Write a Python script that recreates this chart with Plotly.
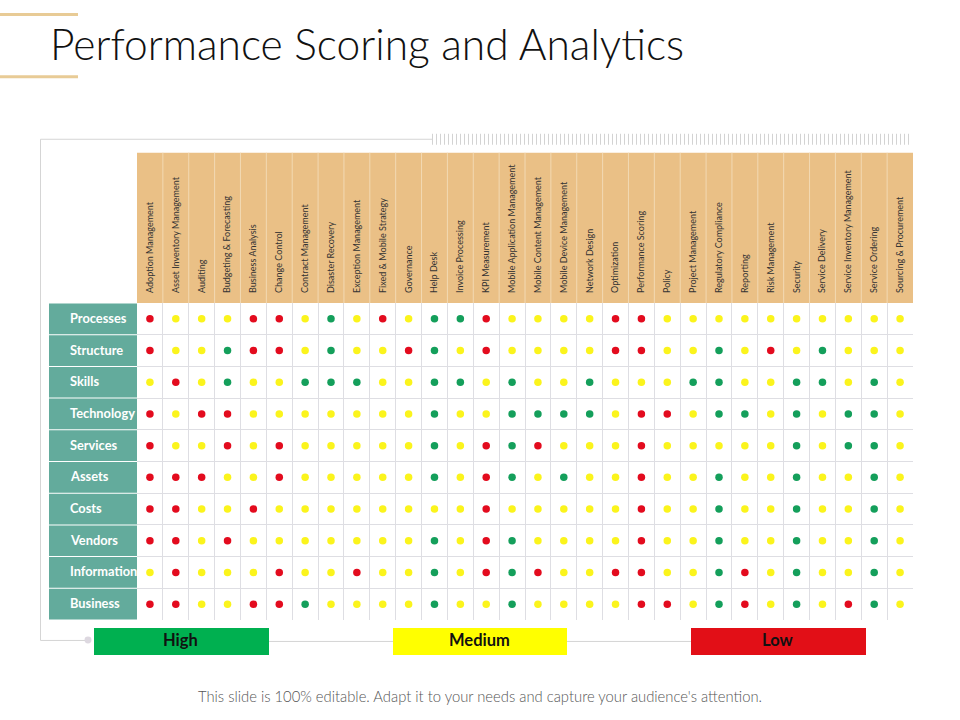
import plotly.graph_objects as go

# ---------- data ----------
CATEGORIES = ["Adoption Management", "Asset Inventory Management", "Auditing", "Budgeting & Forecasting",
              "Business Analysis", "Change Control", "Contract Management", "Disaster Recovery",
              "Exception Management", "Fixed & Mobile Strategy", "Governance", "Help Desk",
              "Invoice Processing", "KPI Measurement", "Mobile Application Management",
              "Mobile Content Management", "Mobile Device Management", "Network Design", "Optimization",
              "Performance Scoring", "Policy", "Project Management", "Regulatory Compliance", "Reporting",
              "Risk Management", "Security", "Service Delivery", "Service Inventory Management",
              "Service Ordering", "Sourcing & Procurement"]
ROW_NAMES = ["Processes", "Structure", "Skills", "Technology", "Services", "Assets", "Costs", "Vendors",
             "Information", "Business"]
# one letter per category: H = High, M = Medium, L = Low
processes   = "LMMMLLMH" "MLMHHLMMMML" "LMMMMMMMMMM"
structure   = "LMMHLLMH" "MMLHMLMMMML" "LMMHMLMHMMM"
skills      = "MLMHMMHH" "HMMHHMHMMHM" "MMHHMMHHMHM"
technology  = "LMLLMMMM" "MMMHMMHHHHM" "LLMHHMHMHHM"
services    = "LMMLMLMM" "MMMHMLHLMMM" "LMMMMMHMHHM"
assets      = "LLLMMLMM" "MMMHMLHMHMM" "LMMHMMHMMHM"
costs       = "LLMMLMMM" "MMMMMLMMMMM" "LMMHMMHMMHM"
vendors     = "LLMLMMMM" "MMMHMLHMMMM" "LMMHMMHMMHM"
information = "MLMMMLMM" "LMMHMLHLMML" "LMMHLMHMMHM"
business    = "LLMMLLHM" "MMMHMMHMMMM" "LLMHLMHMLHM"
SCORES = [processes, structure, skills, technology, services, assets, costs, vendors, information, business]

LEVELS = ["High", "Medium", "Low"]
LEVEL_KEYS = ["H", "M", "L"]
DOT_COLORS = ["#149F5B", "#FBF41C", "#E30B1E"]
BAR_COLORS = ["#00B050", "#FFFF00", "#E20F17"]

TITLE = "Performance Scoring and Analytics"
FOOTER = "This slide is 100% editable. Adapt it to your needs and capture your audience's attention."

# ---------- layout geometry (pixels) ----------
W, H = 960, 720
L, R, T, B = 137, 913, 302.5, 620
FONT = "Lato"


def px(x):
    return (x - L) / (R - L)


def py(y):
    return (B - y) / (B - T)


fig = go.Figure()
for level, key, color in zip(LEVELS, LEVEL_KEYS, DOT_COLORS):
    xs, ys = [], []
    for row, scores in zip(ROW_NAMES, SCORES):
        for cat, s in zip(CATEGORIES, scores):
            if s == key:
                xs.append(cat)
                ys.append(row)
    fig.add_trace(go.Scatter(x=xs, y=ys, mode="markers", name=level, showlegend=False,
                             marker=dict(color=color, size=7.5, line=dict(width=0))))

shapes = []


def rect(x0, y0, x1, y1, fill, layer="below"):
    shapes.append(dict(type="rect", xref="paper", yref="paper", x0=px(x0), x1=px(x1), y0=py(y0), y1=py(y1),
                       fillcolor=fill, line=dict(width=0), layer=layer))


def line(x0, y0, x1, y1, color, width=1):
    shapes.append(dict(type="line", xref="paper", yref="paper", x0=px(x0), x1=px(x1), y0=py(y0), y1=py(y1),
                       line=dict(color=color, width=width), layer="below"))


# accent bars near the title
line(0, 13.5, 78, 13.5, "#E8CB96", 3)
line(0, 76, 78, 76, "#E8CB96", 3)

# outer frame
line(40.5, 138.5, 432, 138.5, "#D5D5D5", 1)
line(40.5, 138.5, 40.5, 640.5, "#D5D5D5", 1)
line(40.5, 640.5, 88, 640.5, "#D5D5D5", 1)
line(269, 641.5, 691, 641.5, "#D5D5D5", 1)
for i in range(120):
    xh = 432.5 + i * 4.0
    line(xh, 133, xh, 144, "#D3D3D3", 1)
shapes.append(dict(type="circle", xref="paper", yref="paper", x0=px(84.5), x1=px(91.5), y0=py(636.5), y1=py(643.5),
                   fillcolor="#DDD8E0", line=dict(width=0), layer="below"))

# header band and its dividers
rect(L, 152, R, T, "#EAC086")
for i in range(1, len(CATEGORIES)):
    xd = L + i * (R - L) / len(CATEGORIES)
    line(xd, 152, xd, T, "#F2D9B3", 1)

# row label cells
rowh = (B - T) / len(ROW_NAMES)
annotations = []
for i, name in enumerate(ROW_NAMES):
    rect(49, T + i * rowh + 0.5, L, T + (i + 1) * rowh - 0.5, "#63AB9C")
    annotations.append(dict(text=name, xref="paper", yref="y", x=px(67.5), y=name, xanchor="left", yanchor="middle",
                            yshift=1, showarrow=False,
                            font=dict(family=FONT, size=12.8, color="#FFFFFF", weight=700)))

# legend bars
for level, color, x0, x1 in zip(LEVELS, BAR_COLORS, [94, 393, 691], [269, 567, 866]):
    rect(x0, 628, x1, 655, color)
    annotations.append(dict(text=level, xref="paper", yref="paper", x=px((x0 + x1) / 2 - 1), y=py(640.5),
                            xanchor="center", yanchor="middle", showarrow=False,
                            font=dict(family=FONT, size=16.5, color="#111111", weight=700)))

# footer
annotations.append(dict(text=FOOTER, xref="paper", yref="paper", x=px(480), y=py(696.5), xanchor="center",
                        yanchor="middle", showarrow=False, font=dict(family=FONT, size=14.8, color="#555555", weight=300)))
annotations.append(dict(text=TITLE, xref="paper", yref="paper", x=px(48), y=py(42.5), xanchor="left",
                        yanchor="middle", showarrow=False, font=dict(family=FONT, size=42.5, color="#111111", weight=300)))

fig.update_layout(
    width=W, height=H, autosize=False,
    margin=dict(l=L, r=W - R, t=T, b=H - B, pad=0),
    paper_bgcolor="white", plot_bgcolor="white",
    shapes=shapes, annotations=annotations, showlegend=False,
    xaxis=dict(type="category", categoryorder="array", categoryarray=CATEGORIES, side="top",
               range=[-0.5, len(CATEGORIES) - 0.5], tickson="boundaries", showgrid=True, gridcolor="#DEDEE3",
               gridwidth=1, tickangle=-90, ticks="", ticklabelstandoff=9, zeroline=False, showline=False,
               tickfont=dict(family=FONT, size=9, color="#333333"), automargin=False, tickmode="array",
               tickvals=CATEGORIES, ticktext=CATEGORIES),
    yaxis=dict(type="category", categoryorder="array", categoryarray=ROW_NAMES,
               range=[len(ROW_NAMES) - 0.5, -0.5], tickson="boundaries", showgrid=True, gridcolor="#DEDEE3",
               gridwidth=1, ticks="", showticklabels=False, zeroline=False, showline=False, automargin=False),
)
fig.write_html("out.html", post_script="document.body.style.margin='0';", config={"displayModeBar": False})
